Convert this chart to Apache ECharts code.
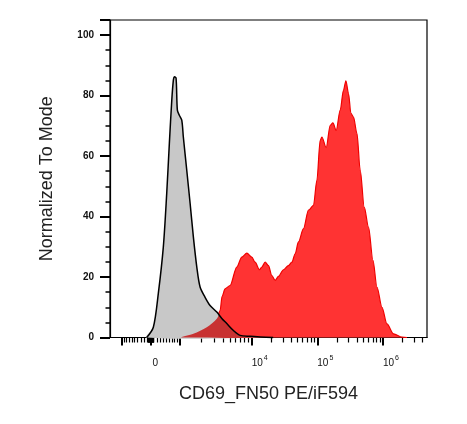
<!DOCTYPE html>
<html>
<head>
<meta charset="utf-8">
<script src="https://cdn.jsdelivr.net/npm/echarts@6/dist/echarts.min.js"></script>
<style>
  html, body { margin: 0; padding: 0; background: #fff; }
  #container { width: 467px; height: 424px; }
</style>
</head>
<body>
<div id="container"></div>
<script>
// x values are in display units of the biexponential axis (10^n sits at n)
var grayX = [2.402, 2.503, 2.579, 2.655, 2.707, 2.747, 2.784, 2.808, 2.823, 2.849, 2.869, 2.899,
  2.936, 2.960, 3.012, 3.063, 3.113, 3.165, 3.215, 3.291, 3.367, 3.470, 3.546, 3.622, 3.723,
  3.825, 3.977, 4.130, 4.328];
var grayY = [0, 3.4, 14.6, 29.9, 47.7, 64.2, 78.5, 85.1, 86.2, 85.8, 75.2, 73.5,
  71.9, 66.3, 55.3, 44.4, 33.2, 23.3, 16.7, 13.3, 10.6, 8.4, 6.3, 4.6, 2.3,
  0.7, 0.4, 0.2, 0];

var redX = [2.936, 3.113, 3.317, 3.470, 3.520, 3.550, 3.596, 3.672, 3.774, 3.851, 3.927, 4.003,
  4.053, 4.119, 4.155, 4.206, 4.256, 4.308, 4.358, 4.409, 4.485, 4.561, 4.613, 4.663, 4.713,
  4.790, 4.866, 4.942, 4.994, 5.044, 5.070, 5.136, 5.197, 5.238, 5.288, 5.349, 5.399, 5.436,
  5.476, 5.512, 5.552, 5.604, 5.654, 5.715, 5.780, 5.848, 5.909, 5.985, 6.061, 6.162, 6.290, 6.366];
var redY = [0, 1.2, 3.4, 6.2, 8.9, 13.6, 16.1, 17.2, 23.3, 26.6, 27.9, 26.6,
  24.9, 22.4, 23.3, 24.9, 23.8, 20.5, 18.9, 20.2, 22.4, 23.8, 24.9, 27.7, 31.6,
  36.0, 42.1, 43.7, 52.0, 65.2, 66.3, 62.8, 70.2, 71.0, 68.5, 75.2, 81.8, 84.9,
  80.7, 74.1, 72.9, 67.5, 55.3, 43.1, 36.5, 25.5, 16.7, 10.0, 4.5, 1.2, 0.1, 0];

// axis ticks in fluorescence units
var xMajorValues = [-1000, 0, 1000, 1e4, 1e5, 1e6];
var xLabelValues = [0, 1e4, 1e5, 1e6];
var xLabelTexts = ['{z|0}{sup| }', '10{sup|4}', '10{sup|5}', '10{sup|6}'];
var xMinorMultipliers = [2, 3, 4, 5, 6, 7, 8, 9];
var xMinorDecades = [-100, -10, 10, 100, 1000, 1e4, 1e5, 1e6];
var xMin = 1.843, xMax = 6.671;

function toDisplay(v) {
  var a = Math.abs(v), s = v < 0 ? -1 : 1;
  if (a <= 1000) return 2.46 + s * 0.442 * Math.asinh(a / 1000) / Math.asinh(1);
  if (a <= 1e4) return 2.46 + s * (0.442 + 1.098 * Math.log10(a / 1000));
  return 2.46 + s * (1.54 + Math.log10(a / 1e4));
}

var xMinorValues = [];
xMinorDecades.forEach(function (d) {
  var list = Math.abs(d) <= 10 ? [1].concat(xMinorMultipliers) : xMinorMultipliers;
  list.forEach(function (m) {
    var p = toDisplay(m * d);
    if (p > xMin && p < xMax) xMinorValues.push(p);
  });
});
var xMajorPos = xMajorValues.map(toDisplay);
var xLabelPos = xLabelValues.map(toDisplay);

var grayData = grayX.map(function (x, i) { return [x, grayY[i]]; });
var redData = redX.map(function (x, i) { return [x, redY[i]]; });

var dom = document.getElementById('container');
var myChart = echarts.init(dom, null, { renderer: 'canvas' });
var font = 'Liberation Sans, Arial, sans-serif';

var option = {
  backgroundColor: '#fff',
  animation: false,
  grid: {
    left: 110, top: 20, right: 40, bottom: 86.5,
    show: true, borderColor: '#000', borderWidth: 1.2
  },
  xAxis: [
    {
      type: 'value', min: xMin, max: xMax, position: 'bottom',
      name: 'CD69_FN50 PE/iF594', nameLocation: 'middle', nameGap: 48,
      nameTextStyle: { fontFamily: font, fontSize: 18, color: '#222' },
      axisLine: { show: true, onZero: false, lineStyle: { color: '#000', width: 1.2 } },
      axisTick: { show: true, length: 8, customValues: xMajorPos, lineStyle: { color: '#000', width: 2 } },
      axisLabel: {
        customValues: xLabelPos, margin: 17, align: 'left',
        fontFamily: font, fontSize: 10, color: '#111',
        formatter: function (v) {
          for (var i = 0; i < xLabelPos.length; i++) {
            if (Math.abs(xLabelPos[i] - v) < 1e-6) return xLabelTexts[i];
          }
          return '';
        },
        rich: {
          z: { fontFamily: font, fontSize: 10, color: '#111', padding: [0, 0, 0, 2] },
          sup: { fontFamily: font, fontSize: 7, color: '#111', padding: [0, 0, 10, 1] }
        }
      },
      splitLine: { show: false }
    },
    {
      type: 'value', min: xMin, max: xMax, position: 'bottom',
      axisLine: { show: false, onZero: false },
      axisTick: { show: true, length: 5, customValues: xMinorValues, lineStyle: { color: '#000', width: 1.2 } },
      axisLabel: { show: false },
      splitLine: { show: false }
    }
  ],
  yAxis: {
    type: 'value', min: 0, max: 105, interval: 20,
    name: 'Normalized To Mode', nameLocation: 'middle', nameGap: 54,
    nameTextStyle: { fontFamily: font, fontSize: 18, color: '#222' },
    axisLine: { show: true, lineStyle: { color: '#000', width: 1.2 } },
    axisTick: { show: true, length: 10, lineStyle: { color: '#000', width: 2 } },
    minorTick: { show: true, splitNumber: 4, length: 4.5, lineStyle: { color: '#000', width: 1.5 } },
    axisLabel: {
      margin: 16, showMaxLabel: false,
      fontFamily: font, fontSize: 10, fontWeight: 'bold', color: '#111'
    },
    splitLine: { show: false }
  },
  series: [
    {
      name: 'CD69',
      type: 'line',
      data: redData,
      z: 2,
      smooth: 0.3,
      smoothMonotone: 'x',
      showSymbol: false,
      lineStyle: { color: '#f00000', width: 1.2 },
      areaStyle: { color: '#ff3333', opacity: 1 }
    },
    {
      name: 'Control',
      type: 'custom',
      coordinateSystem: 'cartesian2d',
      data: [grayData[0]],
      z: 3,
      silent: true,
      renderItem: function (params, api) {
        var grayPts = grayData.map(function (p) { return api.coord(p); });
        var redPts = redData.map(function (p) { return api.coord(p); });
        return {
          type: 'group',
          children: [
            {
              type: 'polygon',
              shape: { points: grayPts, smooth: 0.3 },
              style: { fill: '#c8c8c8', stroke: null }
            },
            {
              // where the two histograms overlap
              type: 'polygon',
              shape: { points: redPts, smooth: 0.3 },
              style: { fill: '#c83232', stroke: null },
              clipPath: { type: 'polygon', shape: { points: grayPts, smooth: 0.3 } }
            },
            {
              type: 'polyline',
              shape: { points: grayPts, smooth: 0.3 },
              style: { fill: null, stroke: '#000', lineWidth: 1.5 }
            }
          ]
        };
      }
    }
  ]
};

myChart.setOption(option);
window.addEventListener('resize', myChart.resize);
</script>
</body>
</html>
